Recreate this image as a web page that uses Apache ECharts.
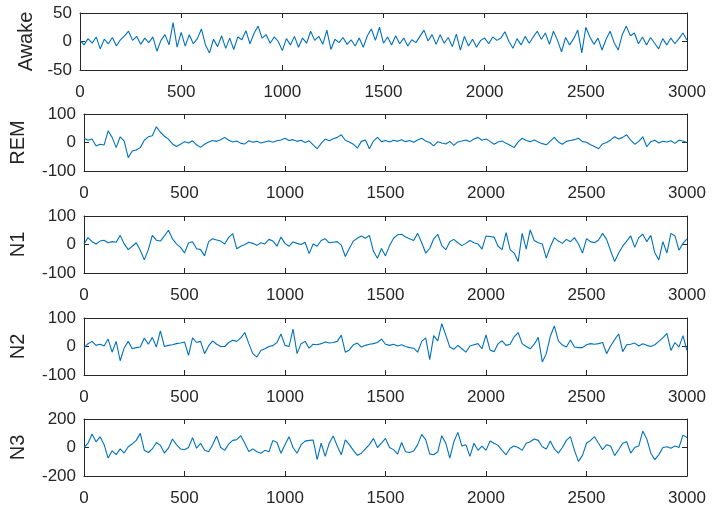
<!DOCTYPE html>
<html>
<head>
<meta charset="utf-8">
<script src="https://cdn.jsdelivr.net/npm/echarts@6/dist/echarts.min.js"></script>
<style>html,body{margin:0;padding:0;background:#fff}#c{width:712px;height:507px}</style>
</head>
<body>
<div id="c"></div>
<script>
const sampleStep = 20;
const xTicks = [0, 500, 1000, 1500, 2000, 2500, 3000];
const stageNames = ['Awake', 'REM', 'N1', 'N2', 'N3'];
const yLimits = [50, 100, 100, 100, 200];

const awake = [
 2, -6, 5, -3, 8, -13, 4, -4, 7, -8,
 3, 10, 18, 2, 9, -5, 6, -2, 8, -17,
 2, 12, -6, 33, -10, 16, -8, 12, -4, 5,
 22, -6, -20, 4, -9, 10, -12, 6, -14, 8,
 3, 19, -4, 14, 27, 6, 12, -3, 8, 0,
 -16, 5, -6, 9, -10, 6, -3, 18, 2, 9,
 -5, 20, -14, 4, -2, 7, -5, 3, -8, 6,
 -10, 10, 22, 2, 25, -3, 8, -6, 10, -4,
 6, -8, 3, -2, 9, 20, 1, 12, -5, 12,
 -3, 7, -9, 13, -15, 9, -8, 4, -10, 2,
 6, -4, 8, 2, 6, 17, 0, -12, 5, -6,
 9, -3, 8, 18, 4, 15, -5, 18, 2, -18,
 7, -6, 5, 20, -20, 25, 8, -5, 6, -15,
 4, 18, -2, -15, 12, 27, 10, 15, -4, 8,
 -6, 7, -3, -13, 5, -6, 6, -4, 5, 15,
 2];
const rem = [
 15, 8, 12, -12, -6, -9, 41, 18, -18, 20,
 5, -53, -30, -26, -18, 8, 20, 24, 55, 36,
 22, 12, -5, -14, -6, 3, -2, 6, -8, -17,
 -6, 2, 7, 4, 10, 18, 8, 2, 5, -3,
 -5, 6, 1, 4, -2, 2, 5, 1, 6, 9,
 15, 7, 10, 4, 8, 0, 6, -8, -22, -3,
 12, 6, 13, 18, 27, 8, 2, -6, -20, 4,
 9, -22, 5, 18, 3, 7, 2, 8, 4, 10,
 3, 7, 1, 9, 15, 5, 0, -12, 3, -2,
 -5, 4, -10, 2, 5, 9, 3, 12, 18, 8,
 12, 4, -6, 2, 5, -3, -10, -18, 2, 15,
 7, 3, 9, 2, -4, -8, 5, 18, 2, -6,
 4, 7, 10, 15, 3, 1, -8, -14, -22, -5,
 0, 9, 20, 12, 18, 27, 8, -6, 4, 20,
 -15, 3, 8, -2, 4, 2, 6, -3, 8, 5,
 0];
const n1 = [
 2, 24, 10, 2, 12, 15, 6, 10, 8, 32,
 2, -18, -6, 6, -20, -54, -18, 32, 15, 12,
 30, 50, 20, 2, -10, -30, 5, 10, -15, -18,
 -40, 10, 20, 16, 12, 2, 25, 38, -15, -6,
 0, 8, 4, -3, 6, 2, 18, 12, -6, 26,
 4, -6, 9, 4, 0, 8, -32, 2, -6, 14,
 20, 6, 8, 10, -2, -42, -14, 12, 22, 30,
 22, 32, -24, -48, -14, -40, -4, 22, 34, 36,
 26, 20, 14, 39, 6, -30, -14, 20, 36, -4,
 -18, 10, 18, 6, -4, 4, 14, 6, 2, -16,
 30, 28, 26, -6, -18, 42, -18, -30, -60, 39,
 -16, 51, 14, 6, 2, -48, -8, 24, 12, 4,
 18, 10, 24, 2, -30, 20, 10, 6, 16, 39,
 18, -22, -60, -30, -6, 12, 30, -10, 24, 36,
 10, 32, -30, -54, 10, -30, 39, 30, -20, 4,
 20];
const n2 = [
 -5, 10, 18, 4, 8, 2, 26, -20, 18, -50,
 -5, 18, -8, -4, -2, 30, 8, 32, -2, 55,
 0, 4, 6, 10, 12, 16, -31, 30, 14, 18,
 -25, 2, 20, 8, 0, 0, 14, 22, 18, 30,
 49, 10, -25, -37, -14, -8, 0, 3, 14, 44,
 4, 0, 61, -25, 10, 18, -6, 8, 6, 10,
 16, 12, 14, 18, 40, -20, -12, 6, 12, -2,
 4, 8, 10, 14, 26, 8, 4, 8, 2, 6,
 0, -4, -6, -20, 18, 30, -46, 38, 20, 80,
 40, -2, -10, 4, -8, -20, 2, 6, 10, -8,
 41, -12, -18, 10, 20, 4, 8, 34, 49, 10,
 0, -8, 8, 32, -54, -25, 36, 72, 20, 5,
 -2, 23, -2, -4, -4, 6, 10, 8, 10, 14,
 -25, 2, 24, 44, -18, 6, 8, 12, 2, 10,
 4, 0, 6, 18, 30, 46, -14, 14, -2, 38,
 -14];
const n3 = [
 0, 30, 95, 40, 75, 20, -74, -23, -50, -10,
 -39, 5, 25, 50, 99, -20, -35, -10, 35, 15,
 -39, -5, 60, 20, -10, -16, 0, 69, -5, 30,
 -20, -30, 20, 80, 0, -20, 25, 50, 55, 83,
 30, -28, -10, -30, -40, -20, -30, 50, 35, -40,
 20, 76, 0, -40, 20, 45, 50, 53, -85, 30,
 -62, 30, 80, 10, -51, 53, 20, -20, -55, -40,
 -10, 20, 64, 0, 30, 64, 0, -15, -46, 35,
 -30, -35, -25, 20, 92, 55, -45, -51, -30, 83,
 30, -74, 40, 106, 10, 20, -62, 30, -20, 10,
 -20, 46, 30, 15, -20, -51, -5, 10, 0, -20,
 30, 40, 60, 50, 5, -10, 46, -10, -39, 0,
 50, 76, -20, -97, -55, 30, 50, 76, 30, -16,
 20, 10, -57, -16, 30, 40, -39, 0, 10, 115,
 60, -40, -85, -50, 0, 5, -5, 10, 0, 87,
 70];

const seriesValues = [awake, rem, n1, n2, n3];
const gridTops = [13, 114, 216, 318, 419];
const nameGaps = [42, 56, 56, 56, 56];
const axisColor = '#262626';
const font = 'Liberation Sans, Arial, Helvetica, sans-serif';
const plain = v => String(v);

const grids = [], xAxes = [], yAxes = [], series = [];
seriesValues.forEach((vals, k) => {
  grids.push({left: 80, width: 607, top: gridTops[k], height: 57, containLabel: false});
  const xBase = {
    gridIndex: k, type: 'value', min: xTicks[0], max: xTicks[xTicks.length - 1], interval: 500,
    splitLine: {show: false},
    axisLine: {show: true, onZero: false, lineStyle: {color: axisColor, width: 1}},
    axisTick: {show: true, inside: true, length: 5, lineStyle: {color: axisColor}}
  };
  xAxes.push(Object.assign({}, xBase, {position: 'bottom',
    axisLabel: {show: true, color: axisColor, fontSize: 17, fontFamily: font, margin: 14, formatter: plain}}));
  xAxes.push(Object.assign({}, xBase, {position: 'top', axisLabel: {show: false}}));
  const lim = yLimits[k];
  const yBase = {
    gridIndex: k, type: 'value', min: -lim, max: lim, interval: lim,
    splitLine: {show: false},
    axisLine: {show: true, onZero: false, lineStyle: {color: axisColor, width: 1}},
    axisTick: {show: true, inside: true, length: 5, lineStyle: {color: axisColor}}
  };
  yAxes.push(Object.assign({}, yBase, {position: 'left',
    name: stageNames[k], nameLocation: 'middle', nameRotate: 90, nameGap: nameGaps[k],
    nameTextStyle: {color: axisColor, fontSize: 20, fontFamily: font},
    axisLabel: {show: true, color: axisColor, fontSize: 17, fontFamily: font, margin: 8, formatter: plain}}));
  yAxes.push(Object.assign({}, yBase, {position: 'right', axisLabel: {show: false}}));
  series.push({
    type: 'line', xAxisIndex: 2 * k, yAxisIndex: 2 * k,
    data: vals.map((v, i) => [i * sampleStep, v]),
    showSymbol: false, symbol: 'none',
    lineStyle: {color: '#0072BD', width: 1.1},
    itemStyle: {color: '#0072BD'},
    clip: true
  });
});

const chart = echarts.init(document.getElementById('c'), null, {renderer: 'canvas'});
chart.setOption({
  animation: false,
  backgroundColor: '#ffffff',
  grid: grids, xAxis: xAxes, yAxis: yAxes, series: series
});
</script>
</body>
</html>
